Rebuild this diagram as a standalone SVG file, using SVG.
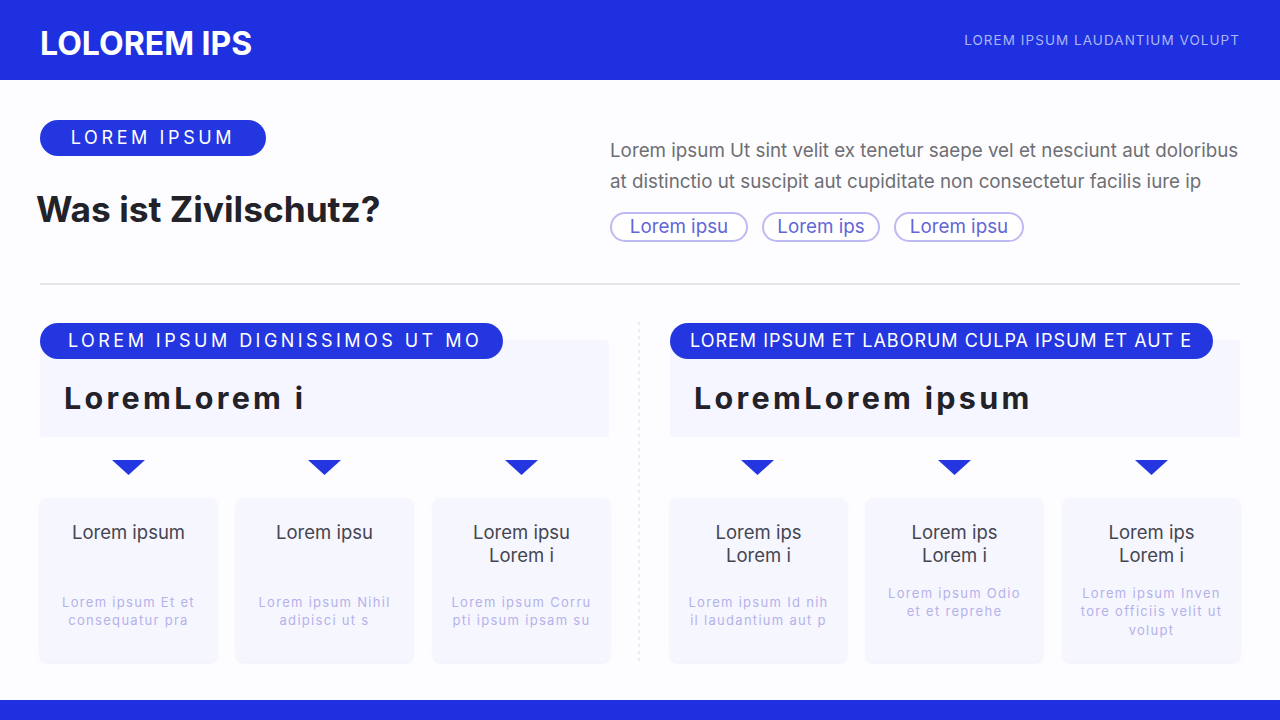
<svg xmlns="http://www.w3.org/2000/svg" width="1280" height="720" viewBox="0 0 1280 720">
<defs>
<style>
text{font-family:Inter,"Noto Sans","Liberation Sans",sans-serif;}
.bar{fill:#1e30df;}
.pill{fill:#2336e0;}
.pilltxt{fill:#ffffff;font-size:18px;}
.tag{fill:#ffffff;stroke:#bdb9f2;stroke-width:2;}
.tagtxt{fill:#6166d9;font-size:18.8px;text-anchor:middle;}
.panel{fill:#f5f6ff;}
.card{fill:#f6f6ff;}
.ctitle{fill:#45454f;font-size:18.5px;text-anchor:middle;}
.cdesc{fill:#b4b2ea;font-size:13px;text-anchor:middle;letter-spacing:1.3px;}
.big{fill:#222228;font-size:30.5px;font-weight:700;letter-spacing:3.3px;}
.tri{fill:#2336e0;}
</style>
<filter id="sh" x="-10%" y="-10%" width="120%" height="120%">
<feDropShadow dx="0" dy="1" stdDeviation="1.5" flood-color="#c8cbe8" flood-opacity="0.35"/>
</filter>
</defs>
<rect width="1280" height="720" fill="#fdfdff"/>
<g id="header">
<rect class="bar" x="0" y="0" width="1280" height="80"/>
<text x="40" y="55" fill="#ffffff" font-size="32" font-weight="700">LOLOREM IPS</text>
<text x="1240" y="45" fill="#aab6f7" font-size="13.5" text-anchor="end" letter-spacing="1.05">LOREM IPSUM LAUDANTIUM VOLUPT</text>
</g>
<g id="footer"><rect class="bar" x="0" y="700" width="1280" height="20"/></g>
<g id="intro">
<rect class="pill" x="40" y="120" width="226" height="36" rx="18"/>
<text class="pilltxt" x="153" y="144" text-anchor="middle" letter-spacing="3.6">LOREM IPSUM</text>
<text x="36" y="222" fill="#222228" font-size="35.3" font-weight="700">Was ist Zivilschutz?</text>
<text x="610" y="157" fill="#6e6e73" font-size="18.8">Lorem ipsum Ut sint velit ex tenetur saepe vel et nesciunt aut doloribus</text>
<text x="610" y="188" fill="#6e6e73" font-size="18.8">at distinctio ut suscipit aut cupiditate non consectetur facilis iure ip</text>
</g>
<g id="tags">
<rect class="tag" x="611" y="213" width="136" height="28" rx="14"/>
<text class="tagtxt" x="679" y="233">Lorem ipsu</text>
<rect class="tag" x="763" y="213" width="116" height="28" rx="14"/>
<text class="tagtxt" x="821" y="233">Lorem ips</text>
<rect class="tag" x="895" y="213" width="128" height="28" rx="14"/>
<text class="tagtxt" x="959" y="233">Lorem ipsu</text>
</g>
<g id="connectors">
<line x1="40" y1="284" x2="1240" y2="284" stroke="#cfcfd4" stroke-width="1.2"/>
<line x1="639" y1="322" x2="639" y2="662" stroke="#e4e4ec" stroke-width="1.5" stroke-dasharray="3 4"/>
<polygon class="tri" points="112,460 145,460 128.5,475"/>
<polygon class="tri" points="308,460 341,460 324.5,475"/>
<polygon class="tri" points="505,460 538,460 521.5,475"/>
<polygon class="tri" points="741,460 774,460 757.5,475"/>
<polygon class="tri" points="938,460 971,460 954.5,475"/>
<polygon class="tri" points="1135,460 1168,460 1151.5,475"/>
</g>
<g id="left-panel">
<rect class="panel" x="40" y="340" width="569" height="97" rx="4"/>
<rect class="pill" x="40" y="323" width="463" height="36" rx="18"/>
<text class="pilltxt" x="68" y="347" letter-spacing="3.45">LOREM IPSUM DIGNISSIMOS UT MO</text>
<text class="big" x="64" y="409">LoremLorem i</text>
</g>
<g id="right-panel">
<rect class="panel" x="670" y="340" width="570" height="97" rx="4"/>
<rect class="pill" x="670" y="323" width="543" height="36" rx="18"/>
<text class="pilltxt" x="690" y="347" letter-spacing="1">LOREM IPSUM ET LABORUM CULPA IPSUM ET AUT E</text>
<text class="big" x="694" y="409">LoremLorem ipsum</text>
</g>
<g id="card1">
<rect class="card" filter="url(#sh)" x="40" y="498" width="177" height="164" rx="8"/>
<text class="ctitle" x="128.5" y="539">Lorem ipsum</text>
<text class="cdesc" x="128.5" y="607">Lorem ipsum Et et</text>
<text class="cdesc" x="128.5" y="625">consequatur pra</text>
</g>
<g id="card2">
<rect class="card" filter="url(#sh)" x="236" y="498" width="177" height="164" rx="8"/>
<text class="ctitle" x="324.5" y="539">Lorem ipsu</text>
<text class="cdesc" x="324.5" y="607">Lorem ipsum Nihil</text>
<text class="cdesc" x="324.5" y="625">adipisci ut s</text>
</g>
<g id="card3">
<rect class="card" filter="url(#sh)" x="433" y="498" width="177" height="164" rx="8"/>
<text class="ctitle" x="521.5" y="539">Lorem ipsu</text>
<text class="ctitle" x="521.5" y="562">Lorem i</text>
<text class="cdesc" x="521.5" y="607">Lorem ipsum Corru</text>
<text class="cdesc" x="521.5" y="625">pti ipsum ipsam su</text>
</g>
<g id="card4">
<rect class="card" filter="url(#sh)" x="670" y="498" width="177" height="164" rx="8"/>
<text class="ctitle" x="758.5" y="539">Lorem ips</text>
<text class="ctitle" x="758.5" y="562">Lorem i</text>
<text class="cdesc" x="758.5" y="607">Lorem ipsum Id nih</text>
<text class="cdesc" x="758.5" y="625">il laudantium aut p</text>
</g>
<g id="card5">
<rect class="card" filter="url(#sh)" x="866" y="498" width="177" height="164" rx="8"/>
<text class="ctitle" x="954.5" y="539">Lorem ips</text>
<text class="ctitle" x="954.5" y="562">Lorem i</text>
<text class="cdesc" x="954.5" y="598">Lorem ipsum Odio</text>
<text class="cdesc" x="954.5" y="616">et et reprehe</text>
</g>
<g id="card6">
<rect class="card" filter="url(#sh)" x="1063" y="498" width="177" height="164" rx="8"/>
<text class="ctitle" x="1151.5" y="539">Lorem ips</text>
<text class="ctitle" x="1151.5" y="562">Lorem i</text>
<text class="cdesc" x="1151.5" y="598">Lorem ipsum Inven</text>
<text class="cdesc" x="1151.5" y="616">tore officiis velit ut</text>
<text class="cdesc" x="1151.5" y="635">volupt</text>
</g>
</svg>
